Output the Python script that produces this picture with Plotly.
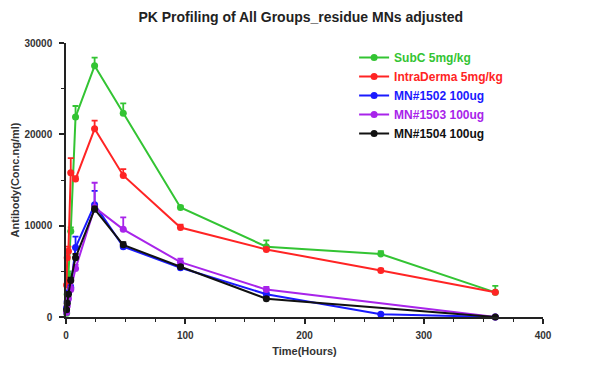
import plotly.graph_objects as go

times = [0.5, 1, 2, 4, 8, 24, 48, 96, 168, 264, 360]

names = ["SubC 5mg/kg", "IntraDerma 5mg/kg", "MN#1502 100ug", "MN#1503 100ug", "MN#1504 100ug"]
colors = ["#33c433", "#ff2424", "#1a1aff", "#a824ea", "#111111"]

subc = [400, 2500, 4600, 9400, 21900, 27500, 22300, 12000, 7700, 6900, 2700]
subc_err = [100, 300, 400, 400, 1200, 900, 1100, 200, 700, 300, 700]

intra = [3500, 6500, 7200, 15800, 15100, 20600, 15500, 9800, 7400, 5100, 2700]
intra_err = [500, 900, 500, 1600, 300, 900, 700, 300, 200, 200, 0]

mn1502 = [1000, 1700, 2600, 3200, 7600, 12300, 7700, 5400, 2500, 300, 0]
mn1502_err = [200, 200, 300, 300, 1200, 1500, 300, 200, 200, 100, 0]

mn1503 = [500, 1200, 2000, 3000, 5300, 12000, 9600, 6000, 3000, None, 0]
mn1503_err = [100, 200, 200, 300, 400, 2700, 1300, 400, 300, 0, 0]

mn1504 = [800, 1500, 2500, 4000, 6500, 11800, 7900, 5500, 2000, None, 0]
mn1504_err = [100, 200, 200, 300, 400, 300, 300, 200, 200, 0, 0]

series = [subc, intra, mn1502, mn1503, mn1504]
errors = [subc_err, intra_err, mn1502_err, mn1503_err, mn1504_err]

x_ticks = [0, 100, 200, 300, 400]
y_ticks = [0, 10000, 20000, 30000]

fig = go.Figure()
for name, col, ys, es in zip(names, colors, series, errors):
    fig.add_trace(go.Scatter(
        x=times, y=ys, mode="lines+markers",
        name=f"<span style='color:{col}'><b>{name}</b></span>",
        line=dict(color=col, width=2),
        marker=dict(color=col, size=7),
        error_y=dict(type="data", array=es, arrayminus=[0] * len(es), symmetric=False,
                     color=col, thickness=1.8, width=3),
        connectgaps=True, cliponaxis=False,
    ))

fig.update_layout(
    width=595, height=372,
    margin=dict(l=58, r=60, t=35, b=63),
    paper_bgcolor="white", plot_bgcolor="white",
    font=dict(family="Liberation Sans, Arial", color="#222222"),
    title=dict(text="<b>PK Profiling of All Groups_residue MNs adjusted</b>",
               x=0.492, xanchor="center", y=0.975, yanchor="middle",
               font=dict(size=14, color="#222222")),
    showlegend=True,
    legend=dict(x=0.604, y=1.0, xanchor="left", yanchor="top",
                font=dict(size=12), bgcolor="rgba(0,0,0,0)",
                tracegroupgap=2, itemwidth=30),
    xaxis=dict(range=[0, 400], tickvals=x_ticks, ticktext=[f"<b>{v}</b>" for v in x_ticks],
               automargin=False,
               showgrid=False, zeroline=False, showline=True, linecolor="#222222", linewidth=1.5,
               ticks="outside", ticklen=5, tickwidth=1.5, tickcolor="#222222",
               minor=dict(dtick=25, ticks="outside", ticklen=3, tickwidth=1.2, tickcolor="#222222"),
               tickfont=dict(size=10, color="#333333"), ticklabelstandoff=3,
               title=dict(text="<b>Time(Hours)</b>", font=dict(size=11, color="#333333"), standoff=8)),
    yaxis=dict(range=[0, 30000], tickvals=y_ticks, ticktext=[f"<b>{v}</b>" for v in y_ticks],
               automargin=False,
               showgrid=False, zeroline=False, showline=True, linecolor="#222222", linewidth=1.5,
               ticks="outside", ticklen=5, tickwidth=1.5, tickcolor="#222222",
               minor=dict(dtick=5000, ticks="outside", ticklen=3, tickwidth=1.2, tickcolor="#222222"),
               tickfont=dict(size=10, color="#333333"), ticklabelstandoff=5,
               title=dict(text="<b>Antibody(Conc.ng/ml)</b>", font=dict(size=11, color="#333333"), standoff=3)),
)

fig.write_html("out.html")
